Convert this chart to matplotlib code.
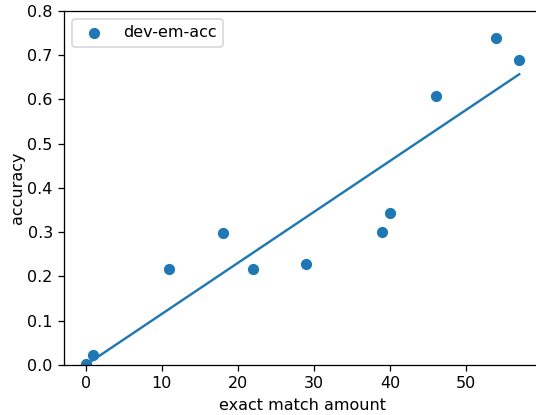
import matplotlib
matplotlib.use("Agg")
import matplotlib.pyplot as plt

# exact match amount vs dev accuracy
em_amount = [0, 1, 11, 18, 22, 29, 39, 40, 46, 54, 57]
dev_em_acc = [0.003, 0.022, 0.216, 0.299, 0.217, 0.228, 0.301, 0.343, 0.608, 0.738, 0.690]

# fitted line endpoints
fit_x = [0, 57]
fit_y = [0.0, 0.657]

x_ticks = [0, 10, 20, 30, 40, 50]

dpi = 115
fig = plt.figure(figsize=(536 / dpi, 415 / dpi), dpi=dpi)
# the original figure is cut off on the right, so the axes runs past the edge
ax = fig.add_axes([0.1194, 0.1205, 0.95, 0.853])
ax.scatter(em_amount, dev_em_acc, label="dev-em-acc")
ax.plot(fit_x, fit_y)
ax.set_xlim(-2.85, 64.1)
ax.set_ylim(0, 0.8)
ax.set_xticks(x_ticks)
ax.set_xlabel("exact match amount", x=0.468)
ax.set_ylabel("accuracy", labelpad=1.5)
ax.legend(loc="upper left")
fig.savefig("out.png", dpi=dpi)
